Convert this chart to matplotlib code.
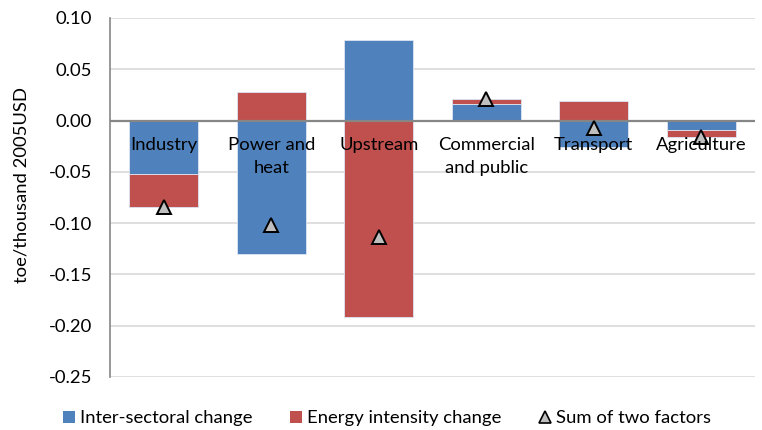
import numpy as np
import matplotlib
matplotlib.use("Agg")
import matplotlib.pyplot as plt
from matplotlib.lines import Line2D
from matplotlib.patches import Patch

plt.rcParams['font.family'] = ['Lato', 'DejaVu Sans']

# Decomposition of energy intensity change by sector
sectors = ['Industry', 'Power and\nheat', 'Upstream', 'Commercial\nand public', 'Transport', 'Agriculture']
inter_sectoral = [-0.052, -0.130, 0.078, 0.016, -0.026, -0.009]
intensity = [-0.032, 0.028, -0.192, 0.005, 0.019, -0.007]
y_ticks = [0.10, 0.05, 0.00, -0.05, -0.10, -0.15, -0.20, -0.25]

blue = '#4F81BD'
red = '#C0504D'
fs = 13.3

fig = plt.figure(figsize=(7.62, 4.30), dpi=100)
ax = fig.add_axes([0.1444, 0.1233, 0.8465, 0.835])

x = np.arange(len(sectors))
inter = np.array(inter_sectoral)
inten = np.array(intensity)
total = inter + inten

# stack positive parts upward and negative parts downward, like Excel does
pos_base = np.zeros(len(x))
neg_base = np.zeros(len(x))
bar_w = 0.64
for vals, col in [(inter, blue), (inten, red)]:
    bottoms = np.where(vals >= 0, pos_base, neg_base)
    ax.bar(x, vals, bar_w, bottom=bottoms, color=col, edgecolor='#dce6f2',
           linewidth=0.6, zorder=3)
    pos_base = pos_base + np.where(vals >= 0, vals, 0)
    neg_base = neg_base + np.where(vals < 0, vals, 0)

ax.plot(x, total, linestyle='none', marker='^', markersize=10,
        markerfacecolor='#BFBFBF', markeredgecolor='black', markeredgewidth=1.4,
        zorder=5)

# category labels sit just under the zero line
for xi, name in zip(x, sectors):
    ax.text(xi, -0.0165, name, ha='center', va='top', fontsize=fs,
            linespacing=1.5, zorder=6)

ax.set_xlim(-0.5, len(sectors) - 0.5)
ax.set_ylim(-0.25, 0.10)
ax.set_yticks(y_ticks)
ax.set_yticklabels([f'{t:.2f}' for t in y_ticks], fontsize=fs)
ax.set_xticks([])
ax.tick_params(axis='y', length=0, pad=13)
ax.grid(axis='y', color='#D9D9D9', linewidth=1.2, zorder=0)
ax.axhline(0, color='#868686', linewidth=1.6, zorder=4)
for side in ['top', 'right', 'bottom']:
    ax.spines[side].set_visible(False)
ax.spines['left'].set_color('#868686')
ax.spines['left'].set_linewidth(1.2)
ax.set_ylabel('toe/thousand 2005USD', fontsize=fs, labelpad=8)
ax.yaxis.set_label_coords(-0.125, 0.535)

handles = [
    Patch(facecolor=blue, edgecolor='none'),
    Patch(facecolor=red, edgecolor='none'),
    Line2D([], [], linestyle='none', marker='^', markersize=9,
           markerfacecolor='#BFBFBF', markeredgecolor='black', markeredgewidth=1.2),
]
labels = ['Inter-sectoral change', 'Energy intensity change', 'Sum of two factors']
fig.legend(handles, labels, loc='center', bbox_to_anchor=(0.508, 0.027),
           ncol=3, frameon=False, fontsize=fs, handlelength=0.65, handleheight=0.65,
           handletextpad=0.3, columnspacing=2.0, borderpad=0.2)

fig.savefig('out.png', dpi=100)
